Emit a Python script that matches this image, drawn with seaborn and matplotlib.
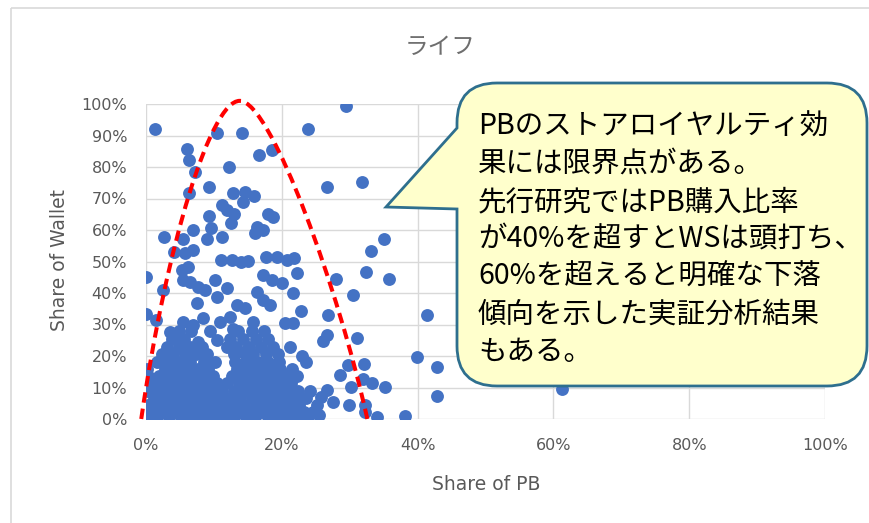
import matplotlib
matplotlib.use("Agg")
import matplotlib.pyplot as plt
import seaborn as sns
import pandas as pd
from matplotlib.path import Path
from matplotlib.patches import PathPatch, Rectangle

# ---- labels -------------------------------------------------------------
title = "ライフ"
x_label = "Share of PB"
y_label = "Share of Wallet"
x_ticks = [0, 20, 40, 60, 80, 100]
x_tick_labels = ["0%", "20%", "40%", "60%", "80%", "100%"]
y_ticks = [0, 10, 20, 30, 40, 50, 60, 70, 80, 90, 100]
y_tick_labels = ["0%", "10%", "20%", "30%", "40%", "50%", "60%", "70%", "80%", "90%", "100%"]

callout_lines = [
    "PBのストアロイヤルティ効",
    "果には限界点がある。",
    "先行研究ではPB購入比率",
    "が40%を超すとWSは頭打ち、",
    "60%を超えると明確な下落",
    "傾向を示した実証分析結果",
    "もある。",
]

# ---- customers: share of PB (%) and share of wallet (%) ------------------
# sparse customers above the main cluster
upper_pb = [
    1.3, 10.5, 14.1, 23.9, 29.5,
    6.0, 6.3, 16.6, 18.6,
    7.2, 12.2, 9.3, 6.3, 26.7, 31.8,
    12.8, 14.6, 15.9, 14.3, 11.2, 11.9, 13.0, 9.3, 18.0, 18.7, 12.5,
    6.9, 9.6, 16.3, 17.2, 16.1,
    2.7, 5.4, 9.0, 11.2, 35.1,
    4.1, 5.7, 6.9, 11.1, 12.6, 14.0, 15.0, 17.6, 19.3, 20.8, 21.8, 33.1,
    0.0, 0.0, 2.5, 5.3, 6.2, 5.4, 6.5, 7.7, 8.7, 10.2, 11.9,
    17.2, 18.6, 20.0, 22.2, 32.4, 28.0, 35.8,
    16.3, 17.2, 18.3, 21.7, 30.5,
    7.5, 10.5, 13.4, 14.6, 22.8, 26.8, 41.4,
    1.5, 5.4, 6.9, 8.4, 10.9, 12.4, 12.8, 15.8, 20.5, 21.7,
    26.7, 26.1, 31.1,
    3.5, 4.6, 7.7, 10.5, 11.9, 14.9, 21.2, 23.0, 23.6,
    39.9, 29.8, 32.1, 42.9, 28.6, 32.0, 33.3, 30.2, 35.2,
    26.7, 25.8, 25.2, 27.5, 29.9, 32.3, 32.3, 42.9, 34.0, 38.1, 25.5, 61.3,
]
upper_sow = [
    92.0, 90.8, 90.8, 92.0, 99.5,
    85.7, 82.2, 83.8, 85.4,
    78.4, 80.0, 73.7, 71.7, 73.7, 75.2,
    71.7, 72.0, 70.8, 68.9, 67.9, 66.3, 65.1, 64.4, 65.1, 64.1, 62.2,
    60.0, 60.6, 61.0, 60.0, 59.0,
    57.8, 57.0, 57.0, 57.8, 57.1,
    52.9, 52.7, 53.7, 50.5, 50.4, 49.8, 50.2, 51.5, 51.4, 50.5, 51.0, 53.3,
    45.0, 33.3, 41.0, 47.3, 48.3, 44.0, 43.5, 42.0, 41.0, 44.0, 41.6,
    45.7, 44.1, 43.2, 46.3, 46.7, 44.4, 44.4,
    40.3, 37.8, 36.2, 40.0, 39.4,
    36.8, 38.7, 36.2, 35.2, 34.2, 33.0, 33.0,
    31.4, 30.8, 29.8, 32.0, 30.8, 32.4, 28.6, 30.8, 30.5, 30.4,
    26.7, 24.8, 25.7,
    27.6, 26.0, 24.4, 25.0, 22.9, 21.9, 22.9, 20.0, 18.1,
    19.7, 17.1, 17.5, 16.5, 14.0, 12.7, 11.4, 10.2, 10.2,
    9.2, 7.0, 4.4, 5.4, 4.4, 4.4, 2.2, 7.3, 0.6, 1.0, 1.3, 9.5,
]

# dense cluster of low-share customers, grouped by share-of-wallet level
band_sow_levels = [0.5, 2.2, 4.5, 6.8, 9.0, 11.3, 13.5, 15.8, 18.0, 20.5, 23.0, 25.5, 27.8]
band_pb_rows = [
    [0.2, 1.6, 3.4, 5.1, 6.7, 8.2, 9.9, 11.4, 13.0, 14.7, 16.1, 17.9, 19.4, 20.8, 22.3, 23.9],
    [0.8, 2.5, 4.2, 5.9, 7.4, 9.1, 10.6, 12.2, 13.8, 15.4, 16.9, 18.6, 20.1, 21.6, 23.2, 24.6],
    [0.3, 1.9, 3.6, 5.0, 6.6, 8.3, 9.8, 11.6, 13.1, 14.5, 16.2, 17.7, 19.3, 20.9, 22.6],
    [1.2, 2.8, 4.4, 6.0, 7.7, 9.2, 10.8, 12.4, 13.9, 15.6, 17.2, 18.8, 20.3, 21.9, 23.5],
    [0.2, 1.7, 3.3, 4.9, 6.5, 8.1, 9.7, 11.2, 12.9, 14.4, 16.0, 17.5, 19.1, 20.7, 22.4, 24.1],
    [1.0, 2.6, 4.1, 5.8, 7.3, 8.9, 10.4, 12.0, 13.7, 15.2, 16.8, 18.3, 19.9, 21.4],
    [0.3, 1.9, 3.5, 5.2, 6.8, 8.4, 9.9, 12.6, 14.2, 15.9, 17.4, 19.0, 20.6, 22.3],
    [0.2, 2.8, 4.4, 6.0, 7.6, 9.2, 13.4, 15.0, 16.6, 18.1, 19.8, 21.5],
    [1.6, 3.3, 4.9, 6.5, 8.6, 10.2, 13.1, 14.7, 16.4, 18.0, 19.6],
    [2.4, 4.0, 5.7, 7.3, 9.0, 13.0, 14.6, 15.8, 17.6, 19.4],
    [3.1, 4.8, 6.5, 8.3, 13.2, 15.1, 16.9, 18.7],
    [3.9, 5.6, 12.3, 14.3, 16.2, 18.0],
    [4.8, 6.6, 9.4, 13.5, 15.6, 17.4],
]

# hand-drawn arch marking the PB loyalty limit (Bezier control points, % units)
arch_left = [(-0.7, 0.0), (3.0, 55.0), (9.5, 101.0), (13.8, 101.0)]
arch_right = [(18.5, 101.0), (28.5, 40.0), (32.6, 0.0)]

# ---- assemble data ------------------------------------------------------
pb = list(upper_pb)
sow = list(upper_sow)
for level, row in zip(band_sow_levels, band_pb_rows):
    pb.extend(row)
    sow.extend([level] * len(row))
df = pd.DataFrame({"pb": pb, "sow": sow})

# ---- figure ---------------------------------------------------------------
sns.set_theme(style="white")
plt.rcParams["font.family"] = ["DejaVu Sans", "Noto Sans CJK JP"]
W, H = 869, 523
fig = plt.figure(figsize=(W / 100, H / 100), dpi=100)
fig.patch.set_facecolor("white")

ax = fig.add_axes([146 / W, 1 - 419 / H, (825 - 146) / W, (419 - 104) / H])
ax.set_facecolor("white")
sns.scatterplot(data=df, x="pb", y="sow", ax=ax, color="#4472C4",
                s=86, linewidth=0, zorder=3, legend=False)

ax.set_xlim(0, 100)
ax.set_ylim(0, 100)
ax.set_xticks(x_ticks)
ax.set_xticklabels(x_tick_labels)
ax.set_yticks(y_ticks)
ax.set_yticklabels(y_tick_labels)
ax.tick_params(axis="both", length=0, labelsize=11.5, labelcolor="#595959")
ax.tick_params(axis="x", pad=14)
ax.tick_params(axis="y", pad=13.5)
ax.grid(True, color="#D9D9D9", linewidth=1.0, zorder=0)
ax.set_axisbelow(True)
for side in ax.spines.values():
    side.set_visible(False)
ax.set_xlabel("")
ax.set_ylabel("")

# dashed arch
verts = arch_left + arch_right
codes = [Path.MOVETO] + [Path.CURVE4] * 6
arch = PathPatch(Path(verts, codes), fill=False, edgecolor="#FF0000",
                 linewidth=2.9, linestyle=(0, (2.6, 1.5)), zorder=5,
                 clip_on=False, transform=ax.transData)
ax.add_patch(arch)

# titles
fig.text(440 / W, 1 - 47 / H, title, ha="center", va="center", fontsize=17,
         color="#6E6E6E", family=["Noto Sans CJK JP", "DejaVu Sans"])
fig.text(486 / W, 1 - 484 / H, x_label, ha="center", va="center",
         fontsize=13.5, color="#595959")
fig.text(60 / W, 1 - 260 / H, y_label, ha="center", va="center",
         fontsize=13.5, color="#595959", rotation=90)

# ---- overlay in pixel units for the chart frame and callout -------------
ov = fig.add_axes([0, 0, 1, 1], zorder=10)
ov.set_xlim(0, W)
ov.set_ylim(H, 0)
ov.axis("off")
ov.patch.set_alpha(0)

ov.add_patch(Rectangle((10.5, 8), 900, 600, fill=False,
                       edgecolor="#D9D9D9", linewidth=1.2))

L, R, T, B, r = 457, 867, 83, 386, 40
tip = (386, 207)
bubble_verts = [
    (L, 128), tip, (L, 209),
    (L, B - r), (L, B), (L + r, B),
    (R - r, B), (R, B), (R, B - r),
    (R, T + r), (R, T), (R - r, T),
    (L + r, T), (L, T), (L, T + r),
    (L, 128), (L, 128),
]
bubble_codes = [
    Path.MOVETO, Path.LINETO, Path.LINETO,
    Path.LINETO, Path.CURVE3, Path.CURVE3,
    Path.LINETO, Path.CURVE3, Path.CURVE3,
    Path.LINETO, Path.CURVE3, Path.CURVE3,
    Path.LINETO, Path.CURVE3, Path.CURVE3,
    Path.LINETO, Path.CLOSEPOLY,
]
ov.add_patch(PathPatch(Path(bubble_verts, bubble_codes), facecolor="#FFFFCC",
                       edgecolor="#2E6F8E", linewidth=2.0, joinstyle="miter"))

line_y = [127, 164, 202, 239, 277, 315, 352]
for text, yy in zip(callout_lines, line_y):
    ov.text(478, yy, text, ha="left", va="center", fontsize=20.5, color="black",
            family=["Noto Sans CJK JP", "DejaVu Sans"])

fig.savefig("out.png", dpi=100)
